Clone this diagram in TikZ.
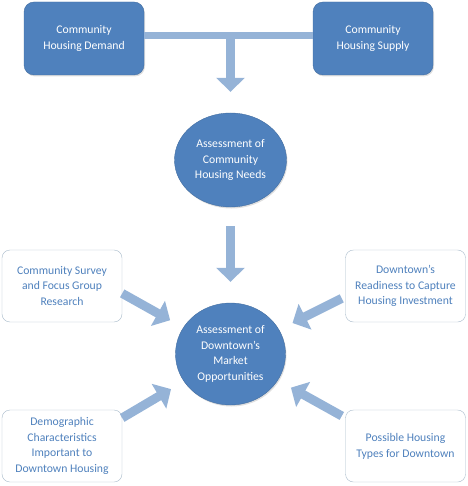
\documentclass[tikz,border=0pt]{standalone}
\usepackage{fontspec}
\setmainfont{Carlito}
\usetikzlibrary{arrows.meta,positioning,shapes.geometric,shadows}
\definecolor{boxblue}{HTML}{4F81BD}
\definecolor{arrblue}{HTML}{95B3D7}
\definecolor{edgegray}{HTML}{A9BBCB}

\begin{document}
\begin{tikzpicture}[
  x=1pt, y=-1pt, font=\fontsize{11.7}{15.8}\selectfont,
  top/.style={draw=boxblue!85!black, fill=boxblue, text=white, rounded corners=10pt,
              minimum width=120pt, minimum height=73pt, align=center, inner sep=2pt,
              drop shadow={opacity=0.25, shadow xshift=1pt, shadow yshift=-1.5pt}},
  hub/.style={ellipse, draw=boxblue!85!black, fill=boxblue, text=white, align=center,
              inner sep=0pt, drop shadow={opacity=0.25, shadow xshift=1pt, shadow yshift=-1.5pt}},
  side/.style={draw=edgegray, fill=white, text=boxblue, rounded corners=8pt,
               minimum width=120pt, minimum height=72pt, align=center, inner sep=2pt},
  fat/.style={arrblue, line width=9pt, -{Triangle[width=28pt, length=14pt]}},
  link/.style={arrblue, line width=7pt},
]
  \useasboundingbox (0,0) rectangle (467,486);
  \node[top] (dem) at (84,38.5)  {Community\\Housing Demand};
  \node[top] (sup) at (373,38.5) {Community\\Housing Supply};
  \node[hub, minimum width=112pt, minimum height=94pt] (need) at (230.5,160)
      {Assessment of\\Community\\Housing Needs};
  \node[hub, minimum width=110pt, minimum height=102pt] (mkt) at (230.5,354)
      {Assessment of\\Downtown's\\Market\\Opportunities};
  \node[side] (srv) at (62,286)    {Community Survey\\and Focus Group\\Research};
  \node[side] (rdy) at (405.5,286) {Downtown's\\Readiness to Capture\\Housing Investment};
  \node[side] (dmg) at (62,446)    {Demographic\\Characteristics\\Important to\\Downtown Housing};
  \node[side] (typ) at (405.5,446) {Possible Housing\\Types for Downtown};
  % supply and demand meet, then feed the needs assessment
  \coordinate (tee) at ([yshift=3pt]dem.east);
  \coordinate (join) at (tee -| need);
  \draw[link] (tee) -- (tee -| sup.west);
  \draw[fat, shorten >=21pt] (join) -- (need);
  \draw[fat, shorten <=19pt, shorten >=21pt] (need) -- (mkt);
  \draw[fat, shorten >=15pt] (srv.-7) -- (mkt);
  \draw[fat, shorten <=4pt, shorten >=15pt] (rdy.190) -- (mkt);
  \draw[fat, shorten >=15pt] (dmg.25) -- (mkt);
  \draw[fat, shorten <=4pt, shorten >=15pt] (typ.155) -- (mkt);
\end{tikzpicture}
\end{document}
